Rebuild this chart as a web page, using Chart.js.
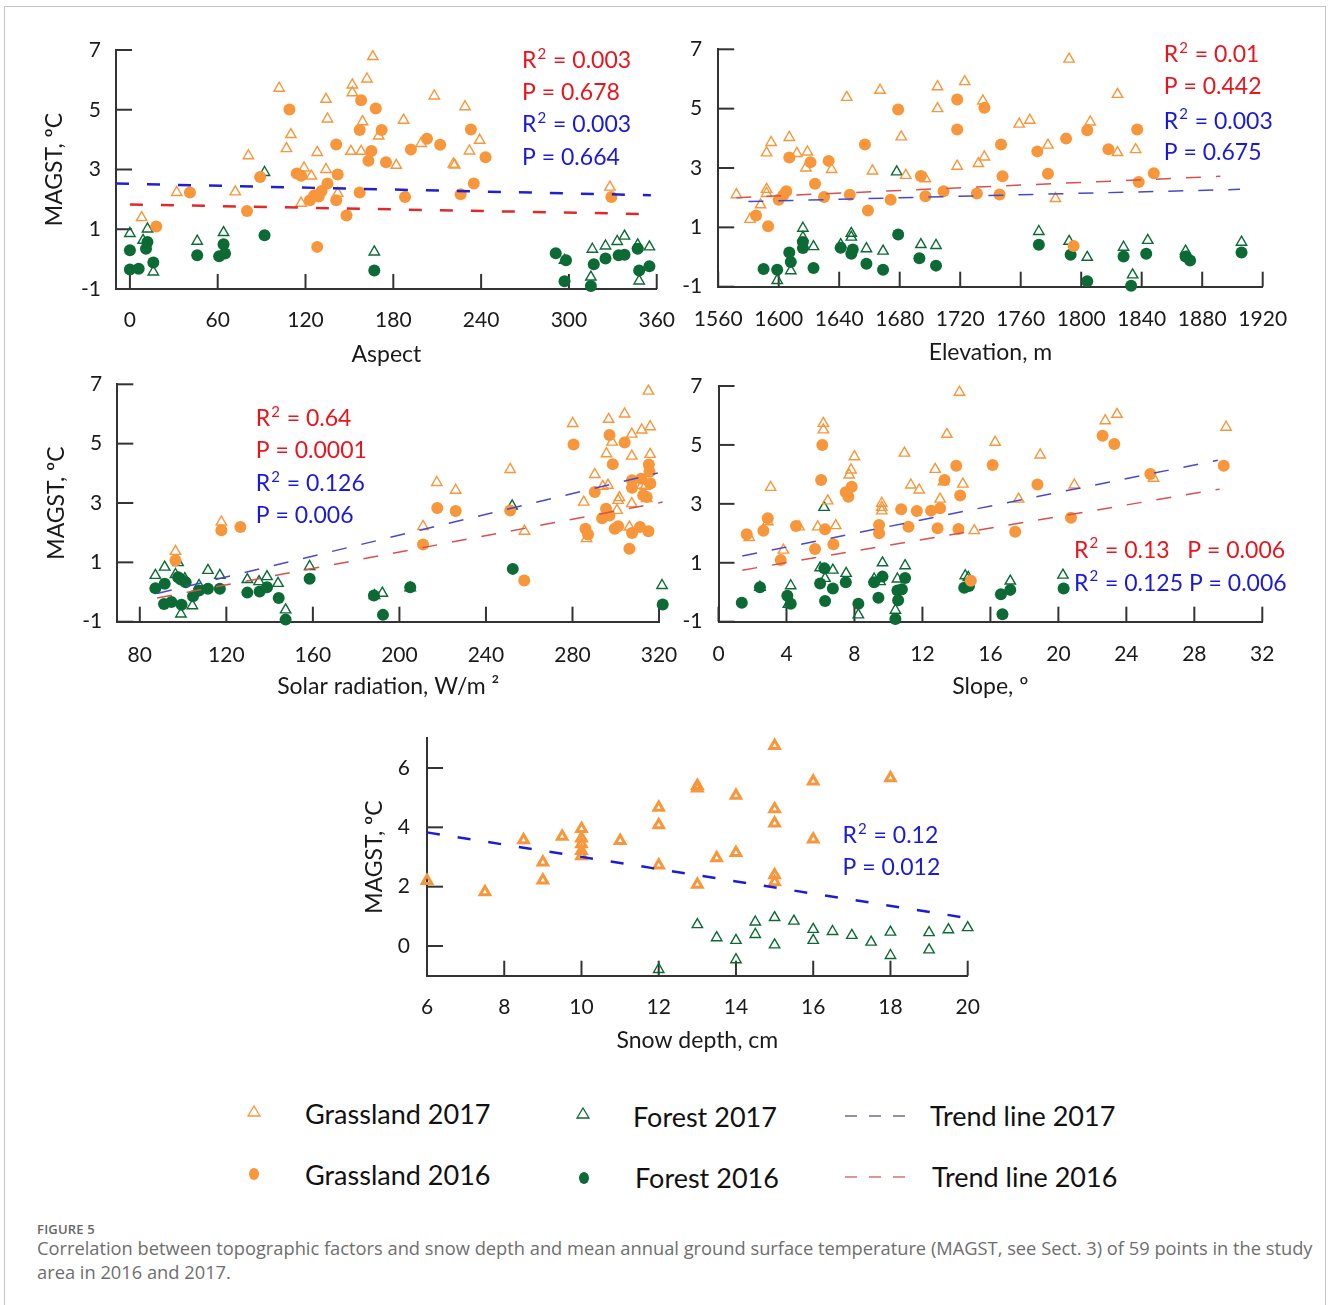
<!DOCTYPE html>
<html>
<head>
<meta charset="utf-8">
<script src="https://cdn.jsdelivr.net/npm/chart.js@4"></script>
<style>
  body { margin: 0; background: #fff; width: 1328px; height: 1305px; position: relative; overflow: hidden; font-family: Lato, sans-serif; }
  #frame { position: absolute; left: 4px; top: 6px; width: 1320px; height: 1400px; border: 1.5px solid #c4c4c4; }
  canvas { position: absolute; }
  .lg { position: absolute; font-size: 27px; line-height: 32px; color: #111; white-space: nowrap; }
  .mk { position: absolute; }
  #figno { position: absolute; left: 37px; top: 1220px; font: 600 13px "Open Sans", sans-serif; color: #666; letter-spacing: 0.2px; }
  #caption { position: absolute; left: 37px; top: 1236px; font: 18.3px/24px "Open Sans", sans-serif; color: #6e6e6e; white-space: nowrap; }
</style>
</head>
<body>
<div id="frame"></div>

<canvas id="aspectChart" width="674" height="355" style="left:20px;top:20px"></canvas>
<canvas id="elevChart" width="637" height="356" style="left:672px;top:19px"></canvas>
<canvas id="solarChart" width="678" height="356" style="left:20px;top:354px"></canvas>
<canvas id="slopeChart" width="620" height="354" style="left:680px;top:356px"></canvas>
<canvas id="snowChart" width="660" height="358" style="left:340px;top:707px"></canvas>

<!-- legend -->
<svg class="mk" style="left:246px;top:1104px" width="16" height="16"><polygon points="8,2 14,12 2,12" fill="none" stroke="#f7963a" stroke-width="1.3"/></svg>
<div class="lg" style="left:305px;top:1098px">Grassland 2017</div>
<svg class="mk" style="left:575px;top:1106px" width="16" height="16"><polygon points="8,2 14,12 2,12" fill="none" stroke="#0c6a35" stroke-width="1.3"/></svg>
<div class="lg" style="left:633px;top:1101px">Forest 2017</div>
<svg class="mk" style="left:843px;top:1108px" width="76" height="16"><line x1="2" y1="8" x2="74" y2="8" stroke="#6a6a9c" stroke-width="1.6" stroke-dasharray="12 12"/></svg>
<div class="lg" style="left:930px;top:1100px">Trend line 2017</div>

<svg class="mk" style="left:246px;top:1166px" width="16" height="16"><ellipse cx="8" cy="8" rx="5" ry="6" fill="#f7963a"/></svg>
<div class="lg" style="left:305px;top:1159px">Grassland 2016</div>
<svg class="mk" style="left:576px;top:1170px" width="16" height="16"><ellipse cx="8" cy="8" rx="5" ry="6" fill="#0c6a35"/></svg>
<div class="lg" style="left:635px;top:1162px">Forest 2016</div>
<svg class="mk" style="left:843px;top:1169px" width="76" height="16"><line x1="2" y1="8" x2="74" y2="8" stroke="#cc7474" stroke-width="1.6" stroke-dasharray="12 12"/></svg>
<div class="lg" style="left:932px;top:1161px">Trend line 2016</div>

<div id="figno">FIGURE 5</div>
<div id="caption">Correlation between topographic factors and snow depth and mean annual ground surface temperature (MAGST, see Sect. 3) of 59 points in the study<br>area in 2016 and 2017.</div>

<script>
// =============================
// DATA  ([x, MAGST] pairs)
// =============================
const magstTicks = [-1, 1, 3, 5, 7];
const snowMagstTicks = [0, 2, 4, 6];

// --- Aspect ---
const aspectTicks = [0, 60, 120, 180, 240, 300, 360];
const aspectGrass2017 = [[166,6.78],[162,6.03],[152,5.83],[152,5.57],[102,5.72],[134,5.35],[135,4.69],[159,4.6],[110,4.17],[170,4.12],[107,3.7],[81,3.46],[128,3.57],[151,3.61],[158,3.61],[182,3.14],[119,3.05],[134,3.0],[124,2.78],[32,2.23],[72,2.25],[142,2.2],[117,1.87],[8,1.39],[208,5.46],[229,5.1],[187,4.65],[239,3.98],[199,3.87],[232,3.62],[221,3.18],[222,3.15],[328,2.41]];
const aspectGrass2016 = [[158,5.32],[168,5.04],[109,5.01],[157,4.32],[172,4.32],[141,3.84],[165,3.62],[163,3.29],[175,3.24],[114,2.87],[117,2.79],[142,2.83],[89,2.75],[135,2.53],[131,2.28],[157,2.23],[41,2.23],[126,2.14],[129,2.1],[123,1.97],[141,1.97],[80,1.61],[148,1.46],[18,1.09],[128,0.41],[203,4.03],[192,3.67],[212,3.83],[233,4.34],[243,3.41],[235,2.53],[226,2.17],[188,2.08],[329,2.08]];
const aspectForest2017 = [[92,2.9],[0,0.86],[12,1.01],[9,0.63],[64,0.89],[46,0.6],[16,-0.43],[167,0.24],[316,0.33],[325,0.44],[333,0.59],[338,0.77],[347,0.48],[355,0.41],[297,-0.04],[315,-0.6],[348,-0.73]];
const aspectForest2016 = [[92,0.8],[0,0.3],[12,0.57],[11,0.35],[0,-0.35],[6,-0.32],[16,-0.11],[46,0.13],[61,0.1],[65,0.19],[64,0.5],[167,-0.38],[291,0.2],[298,-0.04],[297,-0.74],[315,-0.9],[317,-0.17],[325,0.02],[334,0.13],[338,0.15],[347,0.35],[348,-0.38],[355,-0.24]];
const aspectTrend2017 = [[-9.5,2.53],[356,2.14]];
const aspectTrend2016 = [[0,1.83],[351,1.51]];

// --- Elevation ---
const elevTicks = [1560, 1600, 1640, 1680, 1720, 1760, 1800, 1840, 1880, 1920];
const elevGrass2017 = [[1572,2.1],[1581,1.27],[1588,1.76],[1592,2.28],[1592,2.14],[1592,3.51],[1595,3.86],[1607,4.03],[1612,3.49],[1619,3.54],[1618,3.0],[1635,2.95],[1645,5.38],[1662,2.9],[1667,5.62],[1681,4.05],[1684,2.75],[1697,2.64],[1705,5.74],[1705,5.0],[1723,5.91],[1718,3.06],[1735,5.26],[1732,3.15],[1736,3.37],[1792,6.67],[1824,5.48],[1759,4.48],[1766,4.61],[1806,4.55],[1778,3.77],[1824,3.52],[1836,3.62],[1783,1.97]];
const elevGrass2016 = [[1585,1.4],[1593,1.04],[1600,1.93],[1605,2.22],[1603,2.08],[1607,3.35],[1621,3.19],[1624,2.47],[1633,3.24],[1630,2.02],[1647,2.1],[1657,3.79],[1659,1.57],[1674,1.93],[1679,4.97],[1694,2.73],[1697,2.05],[1709,2.22],[1718,5.31],[1718,4.3],[1731,2.14],[1736,5.03],[1747,3.79],[1748,2.72],[1746,2.11],[1771,3.56],[1778,2.81],[1790,3.99],[1804,4.27],[1818,3.63],[1837,4.3],[1838,2.53],[1848,2.82],[1795,0.37]];
const elevForest2017 = [[1599,-0.79],[1608,-0.46],[1616,0.97],[1616,0.66],[1623,0.35],[1641,0.42],[1648,0.8],[1648,0.67],[1658,0.28],[1669,0.2],[1678,2.87],[1694,0.42],[1704,0.39],[1772,0.86],[1792,0.53],[1804,-0.01],[1828,0.33],[1834,-0.6],[1844,0.56],[1869,0.2],[1870,0.0],[1906,0.5]];
const elevForest2016 = [[1590,-0.4],[1599,-0.43],[1607,0.15],[1608,-0.17],[1616,0.51],[1616,0.3],[1623,-0.37],[1641,0.31],[1649,0.25],[1648,0.11],[1658,-0.23],[1669,-0.43],[1679,0.76],[1693,-0.04],[1704,-0.29],[1772,0.41],[1793,0.08],[1804,-0.82],[1828,0.02],[1833,-0.97],[1843,0.11],[1869,0.02],[1872,-0.12],[1906,0.15]];
const elevTrend2017 = [[1580,1.87],[1905,2.28]];
const elevTrend2016 = [[1572,2.0],[1892,2.72]];

// --- Solar radiation ---
const solarTicks = [80, 120, 160, 200, 240, 280, 320];
const solarGrass2017 = [[96.5,1.37],[117.7,2.36],[217.3,3.69],[226,3.43],[210.9,2.21],[251.2,4.13],[257.8,2.05],[280.1,5.68],[296.7,5.82],[304.1,6.0],[315.1,6.77],[312,5.46],[315.9,5.57],[307.4,5.32],[298.3,5.05],[295.7,4.66],[307.4,4.58],[315.9,4.64],[290.3,3.96],[296.4,3.6],[294,3.56],[313.6,3.56],[312,3.6],[285.2,3.03],[301.7,3.18],[301.1,3.09],[307.4,2.98],[300.6,2.75],[314.3,3.15],[306.3,2.19],[286.5,1.8]];
const solarGrass2016 = [[96.5,1.06],[117.7,2.08],[126.5,2.19],[217.5,2.83],[226,2.73],[210.9,1.6],[251.2,2.75],[257.7,0.39],[280.5,4.97],[297.1,5.29],[304.1,5.04],[298.6,4.31],[315.3,4.3],[315.6,4.05],[307.5,3.77],[311.7,3.82],[316,3.66],[307.5,3.51],[290.3,3.37],[312.7,3.26],[314.3,3.2],[295.5,2.81],[297.1,2.58],[293.7,2.49],[286,2.13],[287.2,1.94],[299.5,2.13],[301.1,2.22],[307.5,1.99],[311.2,2.19],[315.1,2.05],[306.3,1.46]];
const solarForest2017 = [[87.2,0.56],[91.5,0.84],[97.7,0.99],[96.5,0.59],[100.8,0.45],[99,-0.74],[104.3,-0.46],[107.4,0.22],[111.5,0.73],[117,0.56],[129.7,0.42],[135.1,0.35],[138.8,0.52],[143.9,0.29],[147.4,-0.6],[158.5,0.86],[188.5,-0.12],[192.1,-0.04],[252.1,2.9],[321.4,0.22],[205,0.14]];
const solarForest2016 = [[87.2,0.13],[91.5,0.28],[97.7,0.5],[99,0.42],[101.2,0.33],[91.2,-0.4],[94.6,-0.34],[99.3,-0.43],[104.6,-0.14],[107.4,0.05],[111.5,0.11],[117,0.11],[129.7,-0.02],[135.4,0.02],[138.8,0.16],[144.2,-0.2],[158.5,0.45],[147.4,-0.93],[188.2,-0.12],[192.4,-0.77],[205,0.16],[252.4,0.78],[321.7,-0.42]];
const solarTrend2017 = [[88,-0.05],[319.4,4.01]];
const solarTrend2016 = [[88,-0.2],[321.7,3.03]];

// --- Slope ---
const slopeTicks = [0, 4, 8, 12, 16, 20, 24, 28, 32];
const slopeGrass2017 = [[1.81,1.86],[3.07,3.56],[2.9,2.39],[3.82,1.43],[4.74,2.22],[6.17,5.73],[6.17,5.51],[6.43,3.1],[5.84,2.22],[6.9,2.26],[7.8,4.15],[7.69,3.98],[8.0,4.6],[9.61,3.02],[9.61,2.88],[9.61,2.76],[10.94,4.72],[11.32,3.64],[11.81,3.47],[12.75,4.17],[13.44,5.36],[14.18,6.79],[13.04,3.16],[13.24,3.75],[14.38,3.67],[15.05,2.09],[16.28,5.09],[18.93,4.66],[17.66,3.16],[20.94,3.64],[22.76,5.82],[23.45,6.04],[25.6,3.87],[29.87,5.6]];
const slopeGrass2016 = [[1.66,1.97],[2.64,2.09],[2.9,2.51],[3.66,1.09],[4.56,2.25],[5.68,1.47],[6.11,5.0],[6.04,3.81],[6.27,2.14],[6.76,1.63],[7.49,3.39],[7.84,3.58],[7.64,3.24],[9.45,2.28],[9.45,2.0],[10.75,2.82],[11.18,2.22],[11.67,2.76],[12.51,2.77],[13.04,2.85],[12.89,2.17],[13.3,3.81],[13.99,4.29],[14.22,3.28],[14.12,2.15],[14.85,0.39],[16.13,4.32],[18.77,3.66],[17.46,2.05],[20.74,2.53],[22.6,5.31],[23.29,5.03],[25.41,4.01],[29.73,4.29]];
const slopeForest2017 = [[2.44,0.17],[4.25,0.22],[4.11,-0.41],[6.21,2.88],[5.98,0.83],[6.27,0.47],[6.73,0.75],[7.51,0.64],[8.23,-0.77],[9.16,0.45],[9.51,0.36],[9.65,1.0],[10.53,0.45],[10.41,-0.61],[10.98,0.9],[14.52,0.56],[14.7,0.5],[17.17,0.38],[20.27,0.58]];
const slopeForest2016 = [[1.37,-0.36],[2.44,0.17],[4.05,-0.12],[4.25,-0.39],[6.23,0.81],[5.98,0.3],[6.73,0.13],[6.27,-0.3],[7.49,0.34],[8.23,-0.39],[9.16,0.34],[9.65,0.53],[9.41,-0.19],[10.53,0.06],[10.79,0.1],[10.98,0.48],[10.57,-0.27],[10.41,-0.91],[14.46,0.15],[14.74,0.21],[16.62,-0.07],[17.17,0.08],[16.71,-0.75],[20.31,0.13]];
const slopeTrend2017 = [[1.4,1.23],[29.38,4.48]];
const slopeTrend2016 = [[1.4,0.75],[29.49,3.5]];

// --- Snow depth (2017 only) ---
const snowTicks = [6, 8, 10, 12, 14, 16, 18, 20];
const snowGrass2017 = [[6,2.2],[7.5,1.82],[8.5,3.57],[9,2.82],[9,2.22],[9.5,3.69],[10,3.95],[10,3.63],[10,3.44],[10,3.21],[10,3.03],[11,3.55],[12,4.67],[12,4.08],[12,2.72],[13,5.4],[13,5.32],[13,2.07],[14,5.07],[14,3.14],[13.5,2.97],[15,6.75],[15,4.62],[15,4.14],[15,2.39],[15,2.16],[16,5.55],[16,3.6],[18,5.66]];
const snowForest2017 = [[13,0.72],[13.5,0.28],[14,0.19],[14,-0.46],[14.5,0.81],[14.5,0.39],[15,0.96],[15,0.04],[15.5,0.84],[16,0.56],[16,0.19],[16.5,0.49],[17,0.36],[17.5,0.13],[18,0.47],[18,-0.32],[19,0.45],[19,-0.13],[19.5,0.55],[20,0.62],[12,-0.79]];
const snowTrend2017 = [[6,3.83],[19.96,0.95]];

// =============================
// STYLE
// =============================
const ORANGE = "#f7963a";
const GREEN = "#0c6a35";
const RED = "#e8151d";
const BLUE = "#1a1ad6";
const AXIS = "#333";

Chart.defaults.font.family = "Lato, sans-serif";
Chart.defaults.color = "#1a1a1a";

function pts(pairs) {
  return pairs.map(p => ({ x: p[0], y: p[1] }));
}

function triangles(pairs, color, width, r) {
  return {
    data: pts(pairs),
    pointStyle: "triangle",
    pointRadius: r || 6,
    borderColor: color,
    backgroundColor: "rgba(255,255,255,0)",
    pointBorderColor: color,
    pointBackgroundColor: "rgba(255,255,255,0)",
    pointBorderWidth: width || 1.4,
    showLine: false,
    clip: false
  };
}

function dots(pairs, color) {
  return {
    data: pts(pairs),
    pointStyle: "circle",
    pointRadius: 6,
    borderColor: color,
    backgroundColor: color,
    pointBorderColor: color,
    pointBackgroundColor: color,
    pointBorderWidth: 0,
    showLine: false,
    clip: false
  };
}

function trend(pairs, color, width, dash) {
  return {
    data: pts(pairs),
    showLine: true,
    pointRadius: 0,
    borderColor: color,
    borderWidth: width,
    borderDash: dash,
    fill: false,
    clip: false
  };
}

// tick marks pointing into the plot
const innerTicks = {
  id: "innerTicks",
  beforeDatasetsDraw(chart) {
    const ctx = chart.ctx;
    const xs = chart.scales.x;
    const ys = chart.scales.y;
    const area = chart.chartArea;
    ctx.save();
    ctx.strokeStyle = AXIS;
    ctx.lineWidth = 2;
    xs.ticks.forEach(t => {
      const px = xs.getPixelForValue(t.value);
      ctx.beginPath();
      ctx.moveTo(px, area.bottom);
      ctx.lineTo(px, area.bottom - 15);
      ctx.stroke();
    });
    ys.ticks.forEach(t => {
      const py = ys.getPixelForValue(t.value);
      ctx.beginPath();
      ctx.moveTo(area.left, py);
      ctx.lineTo(area.left + 16, py);
      ctx.stroke();
    });
    ctx.restore();
  }
};

// R² / P annotations, placed in data coordinates; the "2" is drawn as a superscript
function notesPlugin(items) {
  return {
    id: "notes",
    afterDatasetsDraw(chart) {
      const ctx = chart.ctx;
      ctx.save();
      ctx.textBaseline = "middle";
      ctx.textAlign = "left";
      items.forEach(n => {
        let x = chart.scales.x.getPixelForValue(n.x);
        const y = chart.scales.y.getPixelForValue(n.y);
        ctx.fillStyle = n.color;
        n.text.split("²").forEach((part, i) => {
          if (i > 0) {
            ctx.font = "15px Lato, sans-serif";
            ctx.fillText("2", x + 1, y - 7);
            x += ctx.measureText("2").width + 2;
          }
          ctx.font = "23px Lato, sans-serif";
          ctx.fillText(part, x, y);
          x += ctx.measureText(part).width;
        });
      });
      ctx.restore();
    }
  };
}

// =============================
// PANEL BUILDER
// =============================
function makePanel(id, c) {
  const ctx = document.getElementById(id).getContext("2d");
  return new Chart(ctx, {
    type: "scatter",
    data: { datasets: c.datasets },
    options: {
      responsive: false,
      animation: false,
      devicePixelRatio: 1,
      layout: { padding: { top: c.padTop, right: c.padRight, left: 0, bottom: 0 } },
      plugins: { legend: { display: false }, tooltip: { enabled: false } },
      scales: {
        x: {
          type: "linear",
          min: c.xMin,
          max: c.xMax,
          afterBuildTicks: s => { s.ticks = c.xTicks.map(v => ({ value: v })); },
          afterFit: s => { s.height = c.xHeight; },
          grid: { display: false, drawTicks: false },
          border: { display: true, color: AXIS, width: 2 },
          ticks: { autoSkip: false, maxRotation: 0, padding: c.xLabelPad, font: { size: 21 }, color: "#1a1a1a", callback: v => String(v) },
          title: { display: true, text: c.xTitle, font: { size: 23 }, color: "#1a1a1a", padding: { top: 0, bottom: c.xTitlePad } }
        },
        y: {
          type: "linear",
          min: c.yMin,
          max: c.yMax,
          afterBuildTicks: s => { s.ticks = c.yTicks.map(v => ({ value: v })); },
          afterFit: s => { s.width = c.yWidth; },
          grid: { display: false, drawTicks: false },
          border: { display: true, color: AXIS, width: 2 },
          ticks: { padding: c.yLabelPad, font: { size: 21 }, color: "#1a1a1a", callback: v => String(v) },
          title: { display: !!c.yTitle, text: c.yTitle || "", font: { size: 23 }, color: "#1a1a1a", padding: { top: c.yTitlePad || 0, bottom: 0 } }
        }
      }
    },
    plugins: [innerTicks, notesPlugin(c.notes)]
  });
}

const thickDash = [13, 18];
const thinDash = [15, 15];

// =============================
// ASPECT
// =============================
makePanel("aspectChart", {
  xMin: -9.5, xMax: 360, xTicks: aspectTicks, yMin: -1, yMax: 7, yTicks: magstTicks,
  yWidth: 96, xHeight: 86, padTop: 30, padRight: 36,
  xLabelPad: 19, yLabelPad: 15, xTitlePad: 7, yTitlePad: 21,
  xTitle: "Aspect", yTitle: "MAGST, ºC",
  datasets: [
    trend(aspectTrend2016, "#e02a2a", 2.5, thickDash),
    trend(aspectTrend2017, "#2020d0", 2.5, thickDash),
    triangles(aspectGrass2017, ORANGE),
    dots(aspectGrass2016, ORANGE),
    triangles(aspectForest2017, GREEN),
    dots(aspectForest2016, GREEN)
  ],
  notes: [
    { text: "R² = 0.003", x: 268, y: 6.63, color: RED },
    { text: "P = 0.678", x: 268, y: 5.56, color: RED },
    { text: "R² = 0.003", x: 268, y: 4.49, color: BLUE },
    { text: "P = 0.664", x: 268, y: 3.41, color: BLUE }
  ]
});

// =============================
// ELEVATION
// =============================
makePanel("elevChart", {
  xMin: 1560, xMax: 1920, xTicks: elevTicks, yMin: -1, yMax: 7, yTicks: magstTicks,
  yWidth: 46.2, xHeight: 88.3, padTop: 30.3, padRight: 46.3,
  xLabelPad: 19.7, yLabelPad: 16, xTitlePad: 9,
  xTitle: "Elevation, m",
  datasets: [
    trend(elevTrend2016, "#d85050", 1.5, thinDash),
    trend(elevTrend2017, "#4848cc", 1.5, thinDash),
    triangles(elevGrass2017, ORANGE),
    dots(elevGrass2016, ORANGE),
    triangles(elevForest2017, GREEN),
    dots(elevForest2016, GREEN)
  ],
  notes: [
    { text: "R² = 0.01", x: 1854.6, y: 6.81, color: RED },
    { text: "P = 0.442", x: 1854.6, y: 5.73, color: RED },
    { text: "R² = 0.003", x: 1854.6, y: 4.58, color: BLUE },
    { text: "P = 0.675", x: 1854.6, y: 3.51, color: BLUE }
  ]
});

// =============================
// SOLAR RADIATION
// =============================
makePanel("solarChart", {
  xMin: 69.6, xMax: 320, xTicks: solarTicks, yMin: -1, yMax: 7, yTicks: magstTicks,
  yWidth: 97.3, xHeight: 88.3, padTop: 30.3, padRight: 38.7,
  xLabelPad: 20.7, yLabelPad: 15, xTitlePad: 10, yTitlePad: 23,
  xTitle: "Solar radiation, W/m ²", yTitle: "MAGST, ºC",
  datasets: [
    trend(solarTrend2016, "#d85050", 1.5, thinDash),
    trend(solarTrend2017, "#4848cc", 1.5, thinDash),
    triangles(solarGrass2017, ORANGE),
    dots(solarGrass2016, ORANGE),
    triangles(solarForest2017, GREEN),
    dots(solarForest2016, GREEN)
  ],
  notes: [
    { text: "R² = 0.64", x: 133.6, y: 5.83, color: RED },
    { text: "P = 0.0001", x: 133.6, y: 4.75, color: RED },
    { text: "R² = 0.126", x: 133.6, y: 3.64, color: BLUE },
    { text: "P = 0.006", x: 133.6, y: 2.56, color: BLUE }
  ]
});

// =============================
// SLOPE
// =============================
makePanel("slopeChart", {
  xMin: 0, xMax: 32, xTicks: slopeTicks, yMin: -1, yMax: 7, yTicks: magstTicks,
  yWidth: 38.5, xHeight: 88.3, padTop: 30, padRight: 37.7,
  xLabelPad: 20, yLabelPad: 16, xTitlePad: 10,
  xTitle: "Slope, º",
  datasets: [
    trend(slopeTrend2016, "#d85050", 1.5, thinDash),
    trend(slopeTrend2017, "#4848cc", 1.5, thinDash),
    triangles(slopeGrass2017, ORANGE),
    dots(slopeGrass2016, ORANGE),
    triangles(slopeForest2017, GREEN),
    dots(slopeForest2016, GREEN)
  ],
  notes: [
    { text: "R² = 0.13   P = 0.006", x: 20.92, y: 1.43, color: RED },
    { text: "R² = 0.125 P = 0.006", x: 20.92, y: 0.31, color: BLUE }
  ]
});

// =============================
// SNOW DEPTH
// =============================
makePanel("snowChart", {
  xMin: 6, xMax: 20, xTicks: snowTicks, yMin: -1, yMax: 7, yTicks: snowMagstTicks,
  yWidth: 87, xHeight: 89.3, padTop: 31.3, padRight: 32.3,
  xLabelPad: 18.7, yLabelPad: 17, xTitlePad: 11, yTitlePad: 21,
  xTitle: "Snow depth, cm", yTitle: "MAGST, ºC",
  datasets: [
    trend(snowTrend2017, "#1c1cd8", 2.5, thickDash),
    triangles(snowGrass2017, ORANGE, 3, 5.5),
    triangles(snowForest2017, GREEN, 1.4, 6)
  ],
  notes: [
    { text: "R² = 0.12", x: 16.76, y: 3.71, color: BLUE },
    { text: "P = 0.012", x: 16.76, y: 2.63, color: BLUE }
  ]
});
</script>
</body>
</html>
